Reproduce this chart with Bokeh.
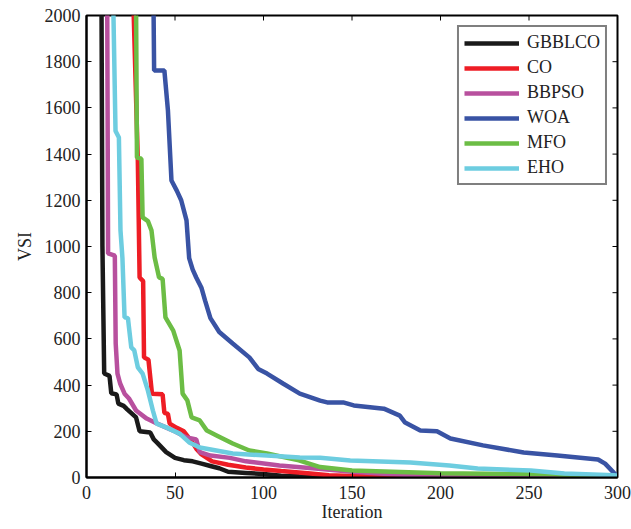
import math
from bokeh.plotting import figure
from bokeh.models import Range1d, FixedTicker, Legend, LegendItem
from bokeh.embed import file_html
from bokeh.resources import INLINE

# ---- data ----
gbblco_it = [1, 8, 9, 10, 13, 14, 17, 18, 21, 23, 28, 30, 36, 38, 40, 45, 50, 55, 60, 65, 70, 75, 80, 90, 100, 110, 120, 150, 200, 300]
gbblco_v = [30000, 3000, 1000, 450, 440, 365, 360, 320, 310, 295, 260, 200, 195, 165, 150, 110, 85, 75, 70, 60, 50, 40, 25, 20, 15, 8, 5, 2, 1, 0.5]

co_it = [20, 26.5, 29, 30, 32, 32.5, 35, 37, 43, 44, 46, 47, 51, 55, 60, 62, 65, 71, 80, 90, 100, 110, 125, 137, 150, 170, 200, 300]
co_v = [20000, 2050, 1372, 866, 850, 520, 510, 363, 360, 280, 275, 233, 215, 200, 150, 125, 100, 70, 55, 43, 35, 28, 18, 10, 6, 3, 2, 1]

bbpso_it = [5, 11.5, 12.2, 16, 16.5, 17.5, 19, 21.5, 24, 28, 34, 40, 49, 56, 62, 64, 70, 81, 90, 109, 131, 150, 170, 200, 250, 300]
bbpso_v = [20000, 2500, 970, 960, 580, 450, 407, 363, 342, 290, 255, 233, 203, 175, 165, 110, 95, 85, 70, 52, 38, 25, 15, 5, 2, 1]

woa_it = [30, 37.8, 38.2, 44, 46, 48, 51, 53.5, 56.5, 58, 60, 62, 65, 67, 70, 75, 82.6, 92, 97, 102, 111, 120.5, 132, 136, 145, 151, 168, 177, 180, 188.6, 198, 205.6, 224, 247, 266, 289, 293, 298, 300]
woa_v = [20000, 2100, 1762, 1762, 1590, 1286, 1242, 1200, 1113, 950, 900, 866, 820, 766, 690, 630, 580, 520, 470, 450, 407, 363, 333, 325, 325, 312, 298, 268, 238, 203, 200, 169, 139, 108, 95, 78, 60, 20, 5]

mfo_it = [20, 28, 28.5, 31, 31.7, 34.7, 36.7, 38.5, 41, 43, 44.6, 49, 52.6, 54.3, 57, 59.4, 64, 68, 73.5, 82.6, 92, 102, 120, 132, 150, 200, 250, 265, 275, 300]
mfo_v = [20000, 2050, 1385, 1380, 1126, 1110, 1070, 952, 866, 860, 693, 636, 550, 363, 333, 260, 247, 203, 182, 147, 117, 104, 74, 45, 30, 18, 15, 14, 6, 4]

eho_it = [5, 15, 16.4, 18.3, 19.2, 20.3, 21.5, 23.4, 25.3, 27, 29, 31.7, 34.7, 37.5, 39.6, 45, 52.6, 58, 64, 82.6, 102, 120.5, 132, 149, 183, 205, 221, 251, 270, 298, 300]
eho_v = [20000, 2100, 1500, 1472, 1070, 950, 693, 690, 563, 550, 477, 450, 376, 290, 233, 217, 190, 152, 130, 104, 95, 87, 85, 74, 65, 52, 39, 30, 17, 10, 8]

names = ["GBBLCO", "CO", "BBPSO", "WOA", "MFO", "EHO"]
colors = ["#1a1a1a", "#ee1d25", "#b8509e", "#3953a4", "#6cbd45", "#6dcde0"]
series = [(gbblco_it, gbblco_v), (co_it, co_v), (bbpso_it, bbpso_v),
          (woa_it, woa_v), (mfo_it, mfo_v), (eho_it, eho_v)]

x_ticks = [0, 50, 100, 150, 200, 250, 300]
y_ticks = [0, 200, 400, 600, 800, 1000, 1200, 1400, 1600, 1800, 2000]
X_MIN, X_MAX = 0, 300
Y_MIN, Y_MAX = 0, 2000

FONT = "Liberation Serif"

p = figure(width=631, height=529, x_range=Range1d(X_MIN, X_MAX), y_range=Range1d(Y_MIN, Y_MAX),
           output_backend="svg", toolbar_location=None,
           min_border_left=86, min_border_right=14, min_border_top=15, min_border_bottom=52)
p.xgrid.visible = False
p.ygrid.visible = False
p.outline_line_color = "black"
p.outline_line_width = 2
p.background_fill_color = "white"

for ax, ticks in ((p.xaxis[0], x_ticks), (p.yaxis[0], y_ticks)):
    ax.ticker = FixedTicker(ticks=ticks)
    ax.axis_line_width = 2
    ax.axis_line_color = "black"
    ax.major_tick_in = 5
    ax.major_tick_out = 0
    ax.major_tick_line_color = "black"
    ax.major_tick_line_width = 1
    ax.minor_tick_line_color = None
    ax.major_label_text_font = FONT
    ax.major_label_text_font_size = "18px"
    ax.major_label_text_color = "#222222"
    ax.axis_label_text_font = FONT
    ax.axis_label_text_font_size = "18px"
    ax.axis_label_text_font_style = "normal"
    ax.axis_label_text_color = "#222222"

p.xaxis[0].major_label_standoff = 8
p.yaxis[0].major_label_standoff = 6
p.xaxis.axis_label = "Iteration"
p.yaxis.axis_label = "VSI"
p.xaxis[0].axis_label_standoff = 0
p.yaxis[0].axis_label_standoff = 7

# inward tick marks on top and right edges (from the tick arrays)
p.ray(x=x_ticks, y=[Y_MAX] * len(x_ticks), length=5, length_units="screen",
      angle=-math.pi / 2, line_color="black", line_width=1)
p.ray(x=[X_MAX] * len(y_ticks), y=y_ticks, length=5, length_units="screen",
      angle=math.pi, line_color="black", line_width=1)

items = []
for name, col, (xs, ys) in zip(names, colors, series):
    r = p.line(xs, ys, line_color=col, line_width=4.5)
    items.append(LegendItem(label=name, renderers=[r]))

legend = Legend(items=items, location="top_right")
legend.label_text_font = FONT
legend.label_text_font_size = "18px"
legend.label_text_color = "#222222"
legend.border_line_color = "black"
legend.border_line_width = 2
legend.padding = 5
legend.spacing = 4
legend.label_height = 20
legend.glyph_height = 20
legend.glyph_width = 55
legend.label_standoff = 8
legend.margin = 10
p.add_layout(legend, "center")

open("out.html", "w").write(file_html(p, INLINE))
